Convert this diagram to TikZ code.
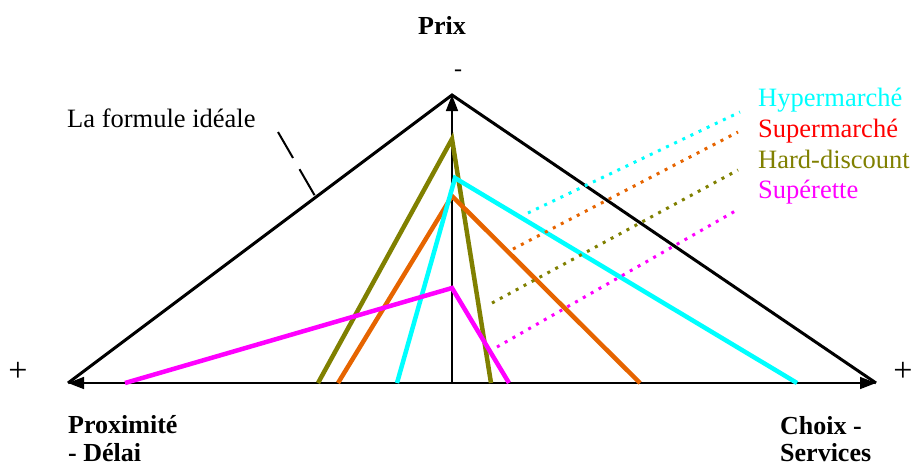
\documentclass[tikz,border=0pt]{standalone}
\usepackage{fontspec}
\setmainfont{Liberation Serif}
\usetikzlibrary{arrows.meta}

\definecolor{olivelin}{RGB}{128,128,0}
\definecolor{orangelin}{RGB}{230,100,0}
\definecolor{cyanlin}{RGB}{0,255,255}
\definecolor{magentalin}{RGB}{255,0,255}
\definecolor{redlbl}{RGB}{255,0,0}

\begin{document}
\begin{tikzpicture}[x=1pt,y=-1pt,
  txt/.style={inner sep=0pt,anchor=base west,font=\fontsize{26.5}{30}\selectfont},
  bold/.style={txt,font=\fontsize{26}{30}\selectfont\bfseries},
  sign/.style={inner sep=0pt,anchor=center,font=\fontsize{34}{34}\selectfont},
  axis/.style={line width=1.5pt,-{Triangle[length=16pt,width=12pt]}},
  offer/.style={line width=4.5pt,line join=miter},
  link/.style={line width=3pt,dash pattern=on 3pt off 6pt}]
\useasboundingbox (0,0) rectangle (915,467);
% axes
\coordinate (O) at (452,383);
\coordinate (L) at (68,383);
\coordinate (R) at (876,383);
\coordinate (T) at (452,95);
\draw[axis] (O)--(L);
\draw[axis] (O)--(R);
\draw[axis] (O)--(T);
\node[bold,anchor=base] (prix) at (442,34) {Prix};
\node[sign,font=\fontsize{24}{24}\selectfont] (moins) at (458,73) {-};
\node[sign] (plusL) at (18,372) {+};
\node[sign] (plusR) at (903,372) {+};
\node[bold] (prox) at (68,433) {Proximité};
\node[bold] (delai) at (68,461) {- Délai};
\node[bold] (choix) at (780,434) {Choix -};
\node[bold] (serv) at (780,461) {Services};
% la formule ideale
\draw[line width=3pt] (L)--(T)--(R);
\node[txt] (ideal) at (67,127) {La formule idéale};
\coordinate (idealA) at (278,132);
\coordinate (idealB) at (315,196);
\draw[line width=2pt,dash pattern=on 30pt off 13pt] (idealA)--(idealB);
% formats
\draw[offer,olivelin] (318,383)--(452,139)--(491,383);
\draw[offer,orangelin] (338,383)--(452,196)--(640,383);
\draw[offer,cyanlin] (397,383)--(455,178)--(797,383);
\draw[offer,magentalin] (125,383)--(452,288)--(509,383);
% legend
\node[txt,cyanlin] (hyper) at (758,106) {Hypermarché};
\node[txt,redlbl] (super) at (758,137) {Supermarché};
\node[txt,olivelin] (hard) at (758,168) {Hard-discount};
\node[txt,magentalin] (supt) at (758,198) {Supérette};
\coordinate (hyperA) at (528,213);  \coordinate (hyperB) at (740,112);
\coordinate (superA) at (513,249);  \coordinate (superB) at (738,132);
\coordinate (hardA) at (492,303);   \coordinate (hardB) at (738,170);
\coordinate (suptA) at (497,347);   \coordinate (suptB) at (737,210);
\draw[link,cyanlin] (hyperA)--(hyperB);
\draw[link,orangelin] (superA)--(superB);
\draw[link,olivelin] (hardA)--(hardB);
\draw[link,magentalin] (suptA)--(suptB);
\end{tikzpicture}
\end{document}
